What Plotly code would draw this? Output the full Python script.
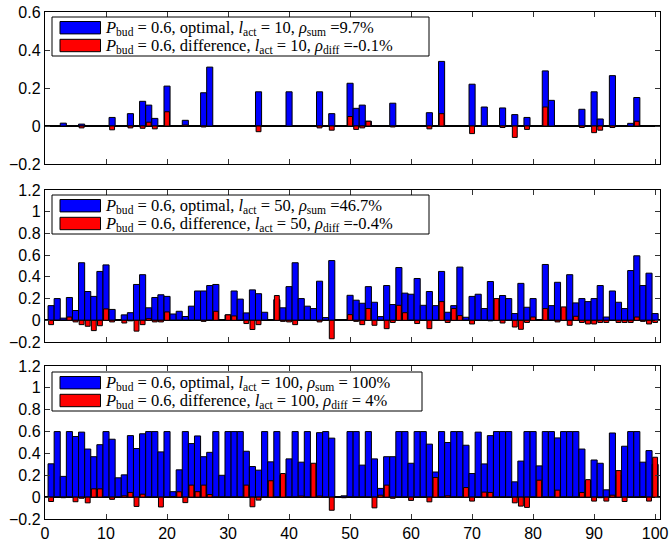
import plotly.graph_objects as go

# ---------------- data ----------------
idx = list(range(1, 101))

# panel 1 (l_act = 10): sparse bars
opt10_x = [3, 6, 11, 14, 16, 17, 18, 20, 23, 26, 27, 35, 40, 45, 47, 50, 51, 52, 53, 57, 63, 65,
           70, 72, 75, 77, 79, 82, 83, 88, 90, 91, 93, 96, 97]
opt10_y = [0.015, 0.01, 0.045, 0.065, 0.13, 0.11, 0.04, 0.21, 0.03, 0.175, 0.31, 0.18, 0.18, 0.18, 0.065,
           0.225, 0.093, 0.11, 0.025, 0.12, 0.07, 0.34, 0.22, 0.1, 0.095, 0.06, 0.045, 0.29, 0.135, 0.088,
           0.18, 0.037, 0.265, 0.014, 0.15]
diff10_x = [6, 11, 14, 16, 17, 18, 20, 23, 26, 35, 45, 47, 50, 51, 52, 53, 57, 63, 65, 70, 75, 77, 79,
            82, 88, 90, 91, 93, 97]
diff10_y = [-0.01, -0.02, -0.01, -0.012, 0.02, -0.015, 0.075, 0.005, -0.005, -0.03, -0.01, -0.022, 0.05,
            -0.018, -0.01, 0.025, -0.005, -0.015, 0.065, -0.04, -0.008, -0.06, -0.018, 0.1, -0.008, -0.035,
            -0.022, -0.008, 0.025]

# panel 2 (l_act = 50)
opt50 = [0.135, 0.2, 0.02, 0.21, 0.09, 0.53, 0.265, 0.22, 0.45, 0.51,
         0.1, 0, 0.05, 0.07, 0.33, 0.42, 0.115, 0.21, 0.235, 0.22,
         0.058, 0.083, 0.035, 0.13, 0.27, 0.27, 0.32, 0.33, 0, 0.05,
         0.27, 0.195, 0.068, 0.28, 0.245, 0.074, 0, 0.19, 0.115, 0.31,
         0.53, 0.2, 0.13, 0.108, 0.36, 0.025, 0.55, 0, 0, 0.23,
         0.185, 0.157, 0.31, 0.166, 0.034, 0.32, 0.145, 0.486, 0.25, 0.24,
         0.385, 0.138, 0.265, 0.135, 0.45, 0.074, 0.135, 0.49, 0.028, 0.22,
         0.24, 0.108, 0.357, 0.19, 0.228, 0.2, 0.062, 0.34, 0.12, 0.2,
         0, 0.514, 0.135, 0.35, 0.11, 0.42, 0.16, 0.2, 0.172, 0.2,
         0.32, 0.03, 0.27, 0.166, 0.108, 0.458, 0.594, 0.32, 0.434, 0.062]
diff50 = [-0.04, 0, 0, 0.03, -0.015, -0.04, -0.055, -0.095, -0.05, 0.105,
          -0.015, 0, -0.025, -0.005, -0.1, -0.04, 0.015, -0.015, -0.015, 0.077,
          0, 0, 0, 0, 0, -0.01, 0, 0.083, 0, 0.05,
          0.04, 0, -0.03, -0.085, -0.04, 0, 0, 0.228, -0.01, -0.015,
          -0.04, 0, 0, 0, -0.015, 0, -0.17, 0, 0, 0.052,
          -0.01, -0.04, 0.108, -0.046, 0, -0.077, -0.02, 0.138, 0.07, 0,
          -0.03, 0, -0.077, 0, 0.172, -0.02, 0.108, 0.043, 0, -0.034,
          0, 0, -0.005, 0.2, -0.025, 0, -0.062, -0.083, -0.02, 0.03,
          0, 0.108, 0, -0.015, 0.123, -0.046, 0.037, -0.02, -0.034, -0.034,
          -0.02, -0.02, 0, -0.02, -0.02, -0.02, 0.03, -0.01, -0.034, -0.02]

# panel 3 (l_act = 100)
opt100 = [0.305, 0.6, 0.19, 0.6, 0.555, 0.595, 0.44, 0.37, 0.48, 0.6,
          0.53, 0.177, 0.204, 0.563, 0.445, 0.58, 0.6, 0.6, 0.414, 0.6,
          0.05, 0.25, 0.6, 0.49, 0.56, 0.37, 0.41, 0.6, 0.2, 0.6,
          0.6, 0.6, 0.42, 0.28, 0.247, 0.6, 0.323, 0.6, 0.2, 0.35,
          0.6, 0.32, 0.6, 0.3, 0.59, 0.6, 0.54, 0.005, 0.012, 0.6,
          0.6, 0.293, 0.6, 0.35, 0.08, 0.37, 0.37, 0.6, 0.6, 0.31,
          0.6, 0.6, 0.485, 0.23, 0.6, 0.5, 0.6, 0.6, 0.475, 0.216,
          0.595, 0.304, 0.563, 0.6, 0.6, 0.6, 0.14, 0.33, 0.6, 0.6,
          0.286, 0.6, 0.6, 0.542, 0.6, 0.6, 0.6, 0.44, 0.15, 0.34,
          0.31, 0.067, 0.587, 0.2, 0.466, 0.6, 0.6, 0.32, 0.426, 0.3]
diff100 = [-0.04, 0, -0.005, 0, -0.042, -0.01, -0.052, 0.076, 0.076, 0,
           -0.02, 0, 0.012, 0.043, -0.085, 0.027, 0, 0, -0.09, 0,
           0.005, 0.049, -0.05, 0.11, 0.05, 0.11, 0.024, 0, 0, 0,
           0, 0, 0.11, -0.088, -0.027, 0, 0.15, 0, 0.216, 0,
           0, 0.01, 0, 0.31, 0.01, 0, -0.12, 0, -0.005, 0,
           0, 0, 0, -0.098, 0.018, 0.11, -0.01, 0, 0, -0.03,
           0, 0, -0.043, 0.18, 0, 0.012, 0, 0, 0.088, -0.036,
           0, 0.046, 0.043, 0, 0, 0, -0.052, -0.082, -0.094, 0,
           0.155, 0, 0, 0.064, 0, 0, 0, 0.043, 0.16, -0.036,
           -0.005, -0.036, 0.018, 0.243, -0.04, 0, 0, 0.005, -0.036, 0.365]

xtick_vals = [0, 10, 20, 30, 40, 50, 60, 70, 80, 90, 100]
p1_ytick_vals = [-0.2, 0, 0.2, 0.4, 0.6]
p1_ytick_text = ["\u22120.2", "0", "0.2", "0.4", "0.6"]
p23_ytick_vals = [-0.2, 0, 0.2, 0.4, 0.6, 0.8, 1.0, 1.2]
p23_ytick_text = ["\u22120.2", "0", "0.2", "0.4", "0.6", "0.8", "1", "1.2"]

legend_opt = [
    "<i>P</i><sub>bud</sub> = 0.6, optimal, <i>l</i><sub>act</sub> = 10, <i>\u03c1</i><sub>sum</sub> =9.7%",
    "<i>P</i><sub>bud</sub> = 0.6, optimal, <i>l</i><sub>act</sub> = 50, <i>\u03c1</i><sub>sum</sub> =46.7%",
    "<i>P</i><sub>bud</sub> = 0.6, optimal, <i>l</i><sub>act</sub> = 100, <i>\u03c1</i><sub>sum</sub> = 100%",
]
legend_diff = [
    "<i>P</i><sub>bud</sub> = 0.6, difference, <i>l</i><sub>act</sub> = 10, <i>\u03c1</i><sub>diff</sub> =-0.1%",
    "<i>P</i><sub>bud</sub> = 0.6, difference, <i>l</i><sub>act</sub> = 50, <i>\u03c1</i><sub>diff</sub> =-0.4%",
    "<i>P</i><sub>bud</sub> = 0.6, difference, <i>l</i><sub>act</sub> = 100, <i>\u03c1</i><sub>diff</sub> = 4%",
]

# ---------------- figure ----------------
W, H = 669, 547
PL, PR, PT, PB = 45, 660, 12, 519          # plot area in page pixels
ML, MR, MT, MB = PL, W - PR, PT, H - PB
PW, PH = PR - PL, PB - PT

def fx(px):
    return (px - PL) / PW

def fy(py):
    return (PB - py) / PH

BLUE = "#0000FF"
RED = "#FF0000"

fig = go.Figure()

panels = [
    (opt10_x, opt10_y, diff10_x, diff10_y, "x", "y"),
    (idx, opt50, idx, diff50, "x2", "y2"),
    (idx, opt100, idx, diff100, "x3", "y3"),
]
for ox, oy, dx, dy, xa, ya in panels:
    fig.add_trace(go.Bar(x=ox, y=oy, width=1.0, xaxis=xa, yaxis=ya,
                         marker=dict(color=BLUE, line=dict(color="black", width=1)),
                         showlegend=False, hoverinfo="skip"))
    fig.add_trace(go.Bar(x=dx, y=dy, width=0.8, xaxis=xa, yaxis=ya,
                         marker=dict(color=RED, line=dict(color="black", width=1)),
                         showlegend=False, hoverinfo="skip"))

tickfont = dict(family="Liberation Sans, Arial, sans-serif", size=16, color="black")

def xaxis(anchor, show_labels):
    return dict(range=[0, 100.8], tickvals=xtick_vals, showticklabels=show_labels,
                ticks="inside", ticklen=5, tickcolor="#333", mirror="ticks",
                showline=True, linecolor="black", linewidth=1.2, showgrid=False,
                zeroline=False, anchor=anchor, domain=[0, 1], tickfont=tickfont,
                automargin=False, ticklabeloverflow="allow")

def yaxis(anchor, dom, rng, vals, text):
    return dict(range=rng, tickvals=vals, ticktext=text, domain=dom,
                ticks="inside", ticklen=5, tickcolor="#333", mirror="ticks",
                showline=True, linecolor="black", linewidth=1.2, showgrid=False,
                zeroline=True, zerolinecolor="black", zerolinewidth=2,
                anchor=anchor, tickfont=tickfont, automargin=False,
                ticklabeloverflow="allow")

dom1 = [fy(164), fy(12)]
dom2 = [fy(342), fy(190)]
dom3 = [fy(519), fy(366)]

fig.update_layout(
    width=W, height=H,
    margin=dict(l=ML, r=MR, t=MT, b=MB, autoexpand=False),
    paper_bgcolor="white", plot_bgcolor="white",
    barmode="overlay", bargap=0,
    xaxis=xaxis("y", False),
    xaxis2=xaxis("y2", False),
    xaxis3=xaxis("y3", True),
    yaxis=yaxis("x", dom1, [-0.2, 0.6], p1_ytick_vals, p1_ytick_text),
    yaxis2=yaxis("x2", dom2, [-0.2, 1.2], p23_ytick_vals, p23_ytick_text),
    yaxis3=yaxis("x3", dom3, [-0.2, 1.2], p23_ytick_vals, p23_ytick_text),
)

# hand-drawn legends (one per panel), positions in page pixels
legend_boxes = [(52, 17, 429, 56), (52, 195, 429, 234), (52, 372, 422, 411)]
shapes = []
annotations = []
legfont = dict(family="Liberation Serif", size=16.5, color="black")
for i, (x0, y0, x1, y1) in enumerate(legend_boxes):
    shapes.append(dict(type="rect", xref="paper", yref="paper", x0=fx(x0), x1=fx(x1),
                       y0=fy(y1), y1=fy(y0), line=dict(color="black", width=1),
                       fillcolor="white", layer="above"))
    r1 = y0 + 10.7
    r2 = y0 + 28.5
    for rc, col in ((r1, BLUE), (r2, RED)):
        shapes.append(dict(type="rect", xref="paper", yref="paper", x0=fx(60), x1=fx(100.5),
                           y0=fy(rc + 6.2), y1=fy(rc - 6.2), line=dict(color="black", width=1),
                           fillcolor=col, layer="above"))
    annotations.append(dict(xref="paper", yref="paper", x=fx(104), y=fy(r1), text=legend_opt[i],
                            showarrow=False, xanchor="left", yanchor="middle", font=legfont,
                            borderpad=0))
    annotations.append(dict(xref="paper", yref="paper", x=fx(104), y=fy(r2), text=legend_diff[i],
                            showarrow=False, xanchor="left", yanchor="middle", font=legfont,
                            borderpad=0))

fig.update_layout(shapes=shapes, annotations=annotations)

# drop the browser's default 8 px body margin so the figure sits at the page origin
fig.write_html("out.html", config={"displayModeBar": False, "staticPlot": True},
               post_script="document.body.style.margin='0px';")
